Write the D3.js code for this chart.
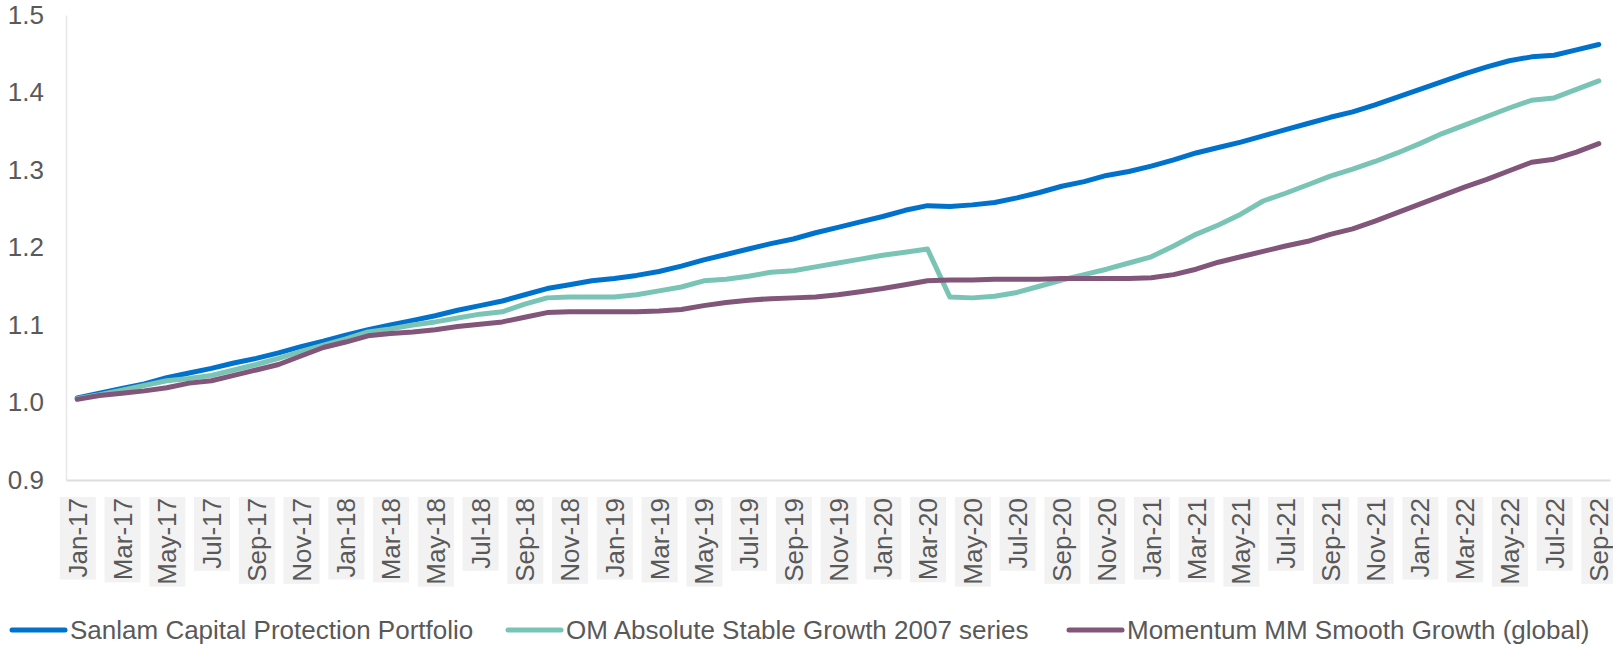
<!DOCTYPE html>
<html>
<head>
<meta charset="utf-8">
<script src="https://cdnjs.cloudflare.com/ajax/libs/d3/7.8.5/d3.min.js"></script>
<style>
  html, body { margin: 0; padding: 0; background: #fff; }
  svg { display: block; font-family: 'Liberation Sans', Arial, sans-serif; }
</style>
</head>
<body>
<svg width="1613" height="646"></svg>
<script>
/* global d3:true */

const months = [
  'Jan-17', 'Feb-17', 'Mar-17', 'Apr-17', 'May-17', 'Jun-17', 'Jul-17', 'Aug-17', 'Sep-17', 'Oct-17', 'Nov-17', 'Dec-17',
  'Jan-18', 'Feb-18', 'Mar-18', 'Apr-18', 'May-18', 'Jun-18', 'Jul-18', 'Aug-18', 'Sep-18', 'Oct-18', 'Nov-18', 'Dec-18',
  'Jan-19', 'Feb-19', 'Mar-19', 'Apr-19', 'May-19', 'Jun-19', 'Jul-19', 'Aug-19', 'Sep-19', 'Oct-19', 'Nov-19', 'Dec-19',
  'Jan-20', 'Feb-20', 'Mar-20', 'Apr-20', 'May-20', 'Jun-20', 'Jul-20', 'Aug-20', 'Sep-20', 'Oct-20', 'Nov-20', 'Dec-20',
  'Jan-21', 'Feb-21', 'Mar-21', 'Apr-21', 'May-21', 'Jun-21', 'Jul-21', 'Aug-21', 'Sep-21', 'Oct-21', 'Nov-21', 'Dec-21',
  'Jan-22', 'Feb-22', 'Mar-22', 'Apr-22', 'May-22', 'Jun-22', 'Jul-22', 'Aug-22', 'Sep-22'
]

const sanlam = [
  1.006, 1.012, 1.018, 1.024, 1.032, 1.038, 1.044, 1.051, 1.057, 1.064, 1.072, 1.079,
  1.087, 1.094, 1.100, 1.106, 1.112, 1.119, 1.125, 1.131, 1.139, 1.147, 1.152, 1.157,
  1.160, 1.164, 1.169, 1.176, 1.184, 1.191, 1.198, 1.205, 1.211, 1.219, 1.226, 1.233,
  1.240, 1.248, 1.254, 1.253, 1.255, 1.258, 1.264, 1.271, 1.279, 1.285, 1.293, 1.298,
  1.305, 1.313, 1.322, 1.329, 1.336, 1.344, 1.352, 1.360, 1.368, 1.375, 1.384, 1.394,
  1.404, 1.414, 1.424, 1.433, 1.441, 1.446, 1.448, 1.455, 1.462
]

const omAbsolute = [
  1.005, 1.010, 1.016, 1.022, 1.028, 1.031, 1.035, 1.042, 1.049, 1.057, 1.066, 1.074,
  1.082, 1.091, 1.095, 1.100, 1.104, 1.109, 1.114, 1.117, 1.127, 1.135, 1.136, 1.136,
  1.136, 1.139, 1.144, 1.149, 1.157, 1.159, 1.163, 1.168, 1.170, 1.175, 1.180, 1.185,
  1.190, 1.194, 1.198, 1.136, 1.135, 1.137, 1.142, 1.150, 1.158, 1.165, 1.172, 1.180,
  1.188, 1.202, 1.217, 1.229, 1.243, 1.260, 1.270, 1.281, 1.292, 1.301, 1.311, 1.322,
  1.334, 1.347, 1.358, 1.369, 1.380, 1.390, 1.393, 1.404, 1.415
]

const momentum = [
  1.004, 1.009, 1.012, 1.015, 1.019, 1.025, 1.028, 1.035, 1.042, 1.049, 1.060, 1.071,
  1.078, 1.086, 1.089, 1.091, 1.094, 1.098, 1.101, 1.104, 1.110, 1.116, 1.117, 1.117,
  1.117, 1.117, 1.118, 1.120, 1.125, 1.129, 1.132, 1.134, 1.135, 1.136, 1.139, 1.143,
  1.147, 1.152, 1.157, 1.158, 1.158, 1.159, 1.159, 1.159, 1.160, 1.160, 1.160, 1.160,
  1.161, 1.165, 1.172, 1.181, 1.188, 1.195, 1.202, 1.208, 1.217, 1.224, 1.234, 1.245,
  1.256, 1.267, 1.278, 1.288, 1.299, 1.310, 1.314, 1.323, 1.334
]

const seriesNames = [
  'Sanlam Capital Protection Portfolio',
  'OM Absolute Stable Growth 2007 series',
  'Momentum MM Smooth Growth (global)'
]
const yTicks = [0.9, 1.0, 1.1, 1.2, 1.3, 1.4, 1.5]
const colors = ['#0072CC', '#7AC4B6', '#82557A']

const series = [sanlam, omAbsolute, momentum].map((values, i) => {
  return { name: seriesNames[i], color: colors[i], values: values }
})

const svg = d3.select('svg')
const margin = { top: 15, right: 3, bottom: 166, left: 66 }
const width = +svg.attr('width') - margin.left - margin.right
const height = +svg.attr('height') - margin.top - margin.bottom

const x = d3.scalePoint().domain(months).range([0, width]).padding(0.5)
const y = d3.scaleLinear().domain([0.9, 1.5]).range([height, 0])

const g = svg.append('g')
  .attr('transform', 'translate(' + margin.left + ',' + margin.top + ')')

// y axis: labels only, faint vertical line
const yAxis = g.append('g')
  .attr('class', 'axis axis--y')
  .call(d3.axisLeft(y).tickValues(yTicks).tickFormat(d3.format('.1f')).tickSize(0).tickPadding(22))
yAxis.select('.domain').attr('stroke', '#e8e8e8').attr('stroke-width', 1.5)
yAxis.selectAll('text')
  .attr('fill', '#595959')
  .style('font-size', '26px')

// x axis: every second month, rotated, grey label boxes
const xAxis = g.append('g')
  .attr('class', 'axis axis--x')
  .attr('transform', 'translate(0,' + height + ')')
  .call(d3.axisBottom(x).tickValues(months.filter((d, i) => i % 2 === 0)).tickSize(0))
xAxis.select('.domain').attr('stroke', '#dddddd').attr('stroke-width', 2)
xAxis.selectAll('.tick text')
  .attr('fill', '#595959')
  .style('font-size', '26px')
  .style('text-anchor', 'end')
  .attr('transform', 'rotate(-90)')
  .attr('x', -18)
  .attr('y', 0)
  .attr('dy', '0.35em')

xAxis.selectAll('.tick').each(function () {
  const tick = d3.select(this)
  const box = tick.select('text').node().getBBox()
  // bbox is in rotated space: swap to screen space
  tick.insert('rect', 'text')
    .attr('x', box.y - 3)
    .attr('y', -(box.x + box.width) - 1)
    .attr('width', box.height + 6)
    .attr('height', box.width + 3)
    .attr('fill', '#f2f2f2')
})

const line = d3.line()
  .x((d, i) => x(months[i]))
  .y((d) => y(d))

g.selectAll('.series')
  .data(series)
  .enter().append('path')
  .attr('class', 'series')
  .attr('fill', 'none')
  .attr('stroke', (d) => d.color)
  .attr('stroke-width', 5)
  .attr('stroke-linejoin', 'round')
  .attr('stroke-linecap', 'round')
  .attr('d', (d) => line(d.values))

// legend
const legendX = [12, 508, 1069]
const legend = svg.append('g').attr('class', 'legend')
series.forEach((s, i) => {
  const item = legend.append('g').attr('transform', 'translate(' + legendX[i] + ',630)')
  item.append('line')
    .attr('x1', 0).attr('x2', 53)
    .attr('y1', 0).attr('y2', 0)
    .attr('stroke', s.color)
    .attr('stroke-width', 5)
    .attr('stroke-linecap', 'round')
  item.append('text')
    .attr('x', 58)
    .attr('y', 0)
    .attr('dy', '0.35em')
    .attr('fill', '#595959')
    .style('font-size', '26px')
    .text(s.name)
})
</script>
</body>
</html>
